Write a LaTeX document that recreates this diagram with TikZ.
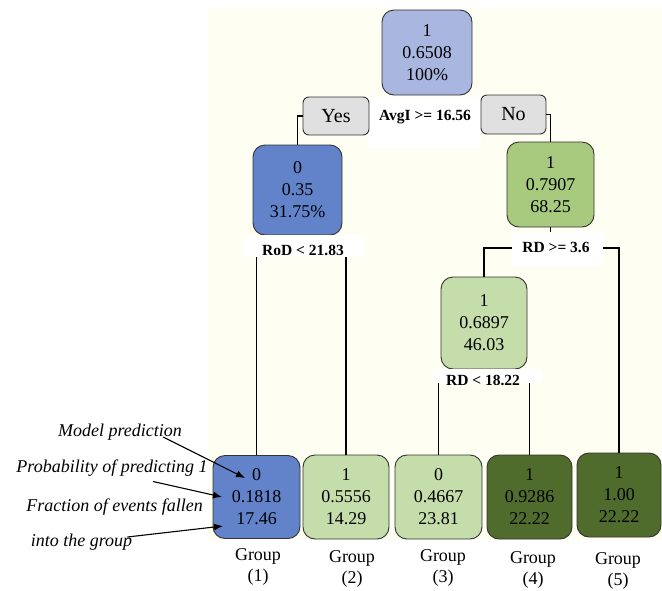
\documentclass[tikz,border=0pt]{standalone}
\usepackage{fontspec}
\setmainfont{Liberation Serif}
\usetikzlibrary{arrows.meta,calc}
\definecolor{cream}{HTML}{FFFEF2}
\definecolor{rootblue}{HTML}{A8B6E0}
\definecolor{midblue}{HTML}{6283C9}
\definecolor{midgreen}{HTML}{A7CA7E}
\definecolor{lightgreen}{HTML}{C4DDAB}
\definecolor{darkgreen}{HTML}{4F6C2D}
\definecolor{yngray}{HTML}{E0E0E0}
\definecolor{bordergray}{HTML}{333333}
\begin{document}
\begin{tikzpicture}[x=1pt,y=-1pt,
  treebox/.style={draw=bordergray, line width=0.9pt, rounded corners=12pt, align=center,
    font=\fontsize{18}{22}\selectfont, inner sep=0pt},
  ynbox/.style={draw=bordergray, fill=yngray, line width=0.9pt, rounded corners=6pt,
    font=\fontsize{20}{24}\selectfont, inner sep=0pt},
  splitlab/.style={font=\bfseries\fontsize{15.5}{18}\selectfont, inner sep=0pt},
  conn/.style={draw=black, line width=1.4pt},
  grouplab/.style={align=center, font=\fontsize{18}{21}\selectfont, inner sep=0pt},
  annot/.style={font=\itshape\fontsize{18}{22}\selectfont, inner sep=0pt},
  annarrow/.style={draw=black, line width=1.1pt, -{Latex[length=9pt,width=7pt]}}
]
\useasboundingbox (0,0) rectangle (662,590);
\fill[white] (0,0) rectangle (662,590);
\fill[cream] (208,8) rectangle (662,540);

% tree nodes
\node[treebox, fill=rootblue, minimum width=90pt, minimum height=85pt] (root) at (427,52.5) {1\\0.6508\\100\%};
\node[treebox, fill=midblue, minimum width=89pt, minimum height=90pt] (L1) at (297.5,190) {0\\0.35\\31.75\%};
\node[treebox, fill=midgreen, minimum width=87pt, minimum height=85pt] (R1) at (550.5,184.5) {1\\0.7907\\68.25};
\node[treebox, fill=lightgreen, minimum width=86pt, minimum height=92pt] (M) at (484,323) {1\\0.6897\\46.03};

\node[treebox, fill=midblue, minimum width=87pt, minimum height=83pt] (G1) at (256.5,497) {0\\0.1818\\17.46};
\node[treebox, fill=lightgreen, minimum width=86pt, minimum height=84pt] (G2) at (346,497) {1\\0.5556\\14.29};
\node[treebox, fill=lightgreen, minimum width=87pt, minimum height=84pt] (G3) at (438.5,497) {0\\0.4667\\23.81};
\node[treebox, fill=darkgreen, minimum width=85pt, minimum height=84pt] (G4) at (529.5,497) {1\\0.9286\\22.22};
\node[treebox, fill=darkgreen, minimum width=84pt, minimum height=84pt] (G5) at (619,495) {1\\1.00\\22.22};

% split points
\coordinate (sL) at (297.5,250);
\coordinate (sR) at (550.5,248);
\coordinate (sM) at (484,378);

% connectors
\draw[conn] (L1.south) -- (sL);
\draw[conn] (G1.north) |- (sL) -| (G2.north);
\draw[conn] (R1.south) -- (sR);
\draw[conn] (M.north) |- (sR) -| (G5.north);
\draw[conn] (M.south) -- (sM);
\draw[conn] (G3.north) |- (sM) -| (G4.north);

% white label backgrounds and split labels
\fill[white] (368,97) rectangle (481,148);
\node[splitlab] (avg) at (425,117) {AvgI >= 16.56};
\fill[white] (243,235) rectangle (365,257);
\node[splitlab] (rod) at (303,250) {RoD < 21.83};
\fill[white] (512,232) rectangle (603,266);
\node[splitlab] (rd1) at (556,247) {RD >= 3.6};
\fill[white] (433,369) rectangle (542,383);
\node[splitlab] (rd2) at (483,380) {RD < 18.22};

% yes / no
\node[ynbox, minimum width=66pt, minimum height=38pt] (yes) at (336,116) {Yes};
\node[ynbox, minimum width=65pt, minimum height=39pt] (no) at (513.5,114.5) {No};
\draw[conn] (yes.west) -| (L1.north);
\draw[conn] (no.east) -| (R1.north);

% group labels
\node[grouplab] (gl1) at (258,567) {Group\\(1)};
\node[grouplab] (gl2) at (352,568.5) {Group\\(2)};
\node[grouplab] (gl3) at (443,568) {Group\\(3)};
\node[grouplab] (gl4) at (533,569.5) {Group\\(4)};
\node[grouplab] (gl5) at (618,571) {Group\\(5)};

% annotations
\node[annot] (mp) at (120,432) {Model prediction};
\node[annot] (pp) at (112,468) {Probability of predicting 1};
\node[annot] (fe) at (114.5,507) {Fraction of events fallen};
\node[annot] (ig) at (81.5,542) {into the group};
\coordinate (t1) at ($(G1.center)+(-11.5,-19)$);
\coordinate (t2) at ($(G1.center)+(-34.5,0)$);
\coordinate (t3) at ($(G1.center)+(-33.5,29)$);
\draw[annarrow] ($(mp.east)+(-19,5)$) -- (t1);
\draw[annarrow] ($(pp.south)+(41,5)$) -- (t2);
\draw[annarrow] ($(ig.east)+(-5,-5)$) -- (t3);
\end{tikzpicture}
\end{document}
